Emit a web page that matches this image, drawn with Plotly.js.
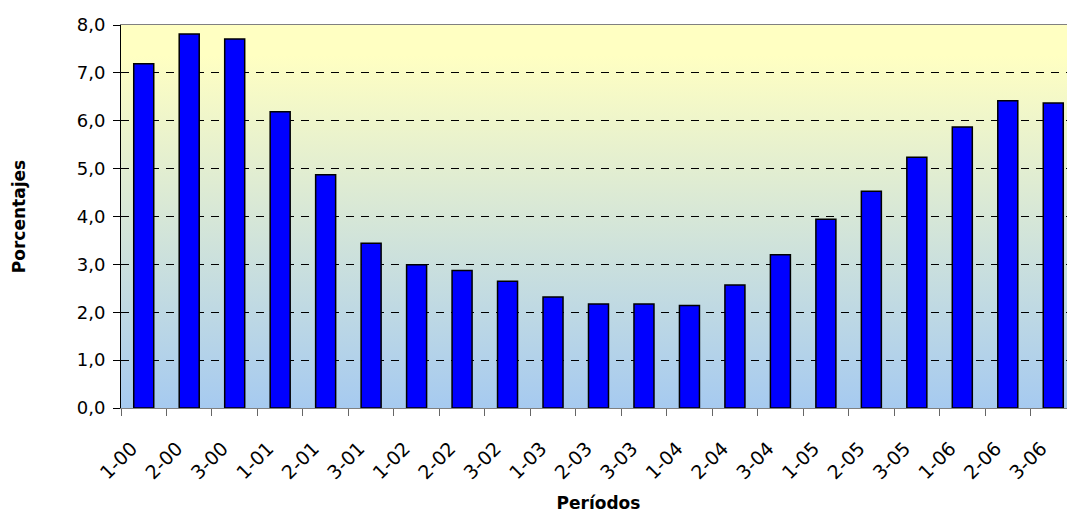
<!DOCTYPE html>
<html>
<head>
<meta charset="utf-8">
<script src="https://cdn.plot.ly/plotly-3.0.1.min.js"></script>
<style>
html,body{margin:0;padding:0;overflow:hidden;background:#fff;}
#chart{width:1080px;height:513px;}
</style>
</head>
<body>
<div id="chart"></div>
<script>
const categories = ['1-00','2-00','3-00','1-01','2-01','3-01','1-02','2-02','3-02','1-03','2-03','3-03','1-04','2-04','3-04','1-05','2-05','3-05','1-06','2-06','3-06'];
const values = [7.19, 7.81, 7.71, 6.19, 4.87, 3.44, 2.99, 2.87, 2.65, 2.32, 2.17, 2.17, 2.14, 2.57, 3.20, 3.94, 4.53, 5.24, 5.87, 6.42, 6.37];
const yTickVals = [0,1,2,3,4,5,6,7,8];
const yTickText = ['0,0','1,0','2,0','3,0','4,0','5,0','6,0','7,0','8,0'];
const xTitle = 'Períodos';
const yTitle = 'Porcentajes';

const gradSvg = '<svg xmlns="http://www.w3.org/2000/svg" width="10" height="100" preserveAspectRatio="none">' +
  '<defs><linearGradient id="g" x1="0" y1="0" x2="0" y2="1">' +
  '<stop offset="0" stop-color="#FFFFC2"/><stop offset="0.08" stop-color="#FFFFC2"/><stop offset="1" stop-color="#A6CAF0"/>' +
  '</linearGradient></defs><rect width="10" height="100" fill="url(#g)"/></svg>';
const gradUri = 'data:image/svg+xml;charset=utf-8,' + encodeURIComponent(gradSvg);

const font = 'DejaVu Sans, Liberation Sans, Arial, sans-serif';

const trace = {
  type: 'bar',
  x: categories,
  y: values,
  marker: {color: '#0000FF', line: {color: '#000000', width: 1.5}},
  hoverinfo: 'x+y'
};

const layout = {
  width: 1080,
  height: 513,
  margin: {l: 121, r: 4, t: 25, b: 105},
  paper_bgcolor: '#ffffff',
  plot_bgcolor: 'rgba(0,0,0,0)',
  bargap: 0.56,
  showlegend: false,
  font: {family: font, size: 16, color: '#000'},
  images: [{
    source: gradUri, xref: 'paper', yref: 'paper', x: 0, y: 1,
    sizex: 1, sizey: 1, sizing: 'stretch', xanchor: 'left', yanchor: 'top', layer: 'below'
  }],
  xaxis: {
    type: 'category',
    tickson: 'boundaries',
    ticks: 'outside', ticklen: 7, tickcolor: '#666', tickwidth: 1,
    showline: true, linecolor: '#808080', linewidth: 1, mirror: true,
    showgrid: false,
    tickangle: -45,
    tickfont: {family: font, size: 19, color: '#000'},
    ticklabelstandoff: 21,
    ticklabelshift: -12,
    title: {text: xTitle, font: {family: font, size: 17, color: '#000', weight: 'bold'}, standoff: 23},
    automargin: false
  },
  yaxis: {
    range: [0, 8],
    tickvals: yTickVals,
    ticktext: yTickText,
    ticks: 'outside', ticklen: 7, tickcolor: '#000', tickwidth: 1,
    showline: true, linecolor: '#000', linewidth: 1,
    showgrid: true, gridcolor: '#000', gridwidth: 1, griddash: '8px,7px',
    zeroline: false,
    tickfont: {family: font, size: 18, color: '#000'},
    ticklabelstandoff: 4,
    title: {text: yTitle, font: {family: font, size: 17, color: '#000', weight: 'bold'}, standoff: 46},
    automargin: false
  }
};

Plotly.newPlot('chart', [trace], layout, {displayModeBar: false, staticPlot: true});
</script>
</body>
</html>
